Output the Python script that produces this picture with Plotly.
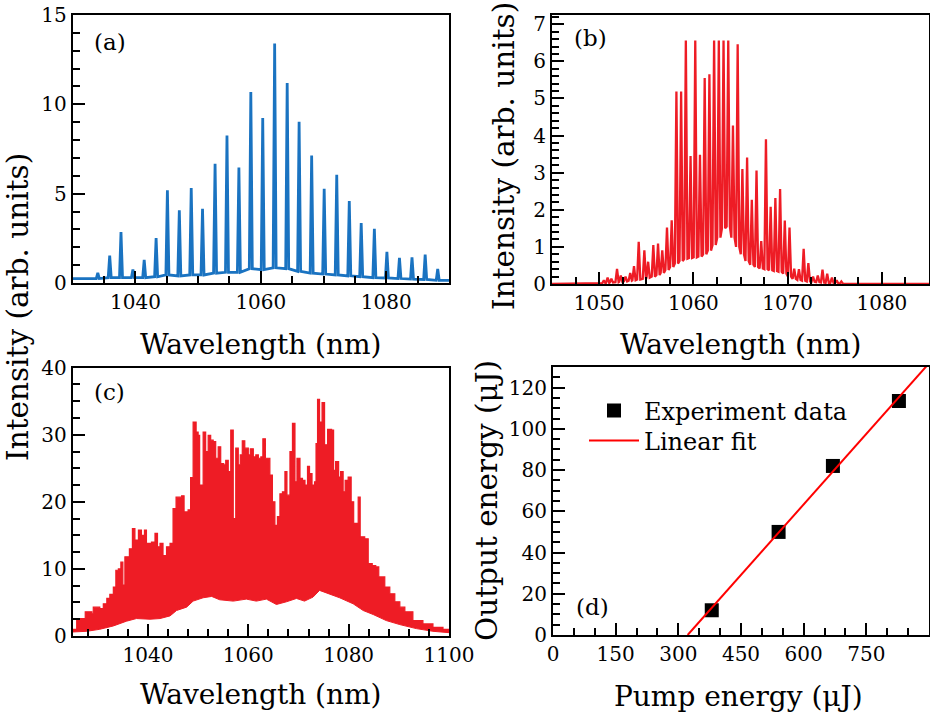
import numpy as np
import plotly.graph_objects as go

# ---------------- data ----------------
# (a) spectrum: peak wavelengths, peak intensities, floor level at each peak base
a_peak_wl = [1034.0, 1035.9, 1037.7, 1039.6, 1041.4, 1043.3, 1045.1, 1047.0, 1048.9, 1050.7,
             1052.7, 1054.6, 1056.5, 1058.4, 1060.3, 1062.2, 1064.2, 1066.1, 1068.1, 1070.1,
             1072.1, 1074.1, 1076.0, 1078.1, 1080.1, 1082.1, 1084.1, 1086.2, 1088.2]
a_peak_int = [0.56, 1.54, 2.85, 0.75, 1.29, 2.51, 5.19, 4.07, 5.31, 4.16,
              6.68, 8.25, 6.47, 10.69, 9.23, 13.41, 11.19, 9.02, 7.13, 5.27,
              6.06, 4.59, 3.36, 3.04, 1.74, 1.41, 1.44, 1.59, 0.79]
a_peak_floor = [0.25, 0.3, 0.3, 0.3, 0.3, 0.35, 0.45, 0.4, 0.45, 0.45,
                0.55, 0.6, 0.6, 0.8, 0.75, 0.85, 0.8, 0.65, 0.55, 0.5,
                0.45, 0.4, 0.35, 0.3, 0.28, 0.25, 0.22, 0.2, 0.15]
a_edge_wl = [1030.0, 1090.0]
a_edge_int = [0.25, 0.15]

# (b) spectrum
b_peak_wl = [1050.5, 1050.9, 1051.3, 1051.9, 1052.3, 1052.8, 1053.3, 1053.7, 1054.2, 1054.8,
             1055.2, 1055.75, 1056.25, 1056.7, 1057.2, 1057.7, 1058.2, 1058.7, 1059.2, 1059.7,
             1060.2, 1060.7, 1061.2, 1061.7, 1062.2, 1062.7, 1063.2, 1063.7, 1064.2, 1064.7,
             1065.2, 1065.7, 1066.2, 1066.7, 1067.2, 1067.7, 1068.2, 1068.7, 1069.2, 1069.7,
             1070.2, 1070.7, 1071.2, 1071.7, 1072.2, 1072.7, 1073.2, 1073.7, 1074.2, 1074.7,
             1075.2, 1075.7]
b_peak_int = [0.1, 0.17, 0.14, 0.41, 0.23, 0.2, 0.3, 0.48, 1.14, 0.91,
              0.6, 1.05, 1.09, 0.91, 1.52, 1.72, 5.19, 5.19, 6.56, 3.45,
              6.56, 3.48, 5.55, 5.65, 6.56, 6.56, 6.56, 6.56, 4.27, 6.46,
              3.1, 3.41, 2.27, 3.06, 1.16, 3.9, 2.08, 2.32, 2.56, 1.71,
              1.52, 0.41, 0.4, 0.95, 0.56, 0.2, 0.23, 0.39, 0.28, 0.17,
              0.1, 0.07]
b_peak_floor = [0.02, 0.03, 0.04, 0.05, 0.06, 0.07, 0.09, 0.1, 0.12, 0.14,
                0.17, 0.2, 0.24, 0.3, 0.38, 0.46, 0.55, 0.62, 0.68, 0.7,
                0.72, 0.74, 0.8, 0.9, 1.05, 1.25, 1.5, 1.55, 1.25, 1.0,
                0.8, 0.62, 0.52, 0.46, 0.42, 0.4, 0.37, 0.35, 0.33, 0.28,
                0.2, 0.14, 0.11, 0.09, 0.07, 0.06, 0.05, 0.04, 0.03, 0.03,
                0.02, 0.01]
b_edge_wl = [1045.0, 1050.0, 1076.3, 1085.0]
b_edge_int = [0.0, 0.0, 0.0, 0.0]

# (c) spectrum: upper (spiky) contour and lower envelope
c_upper_wl = [1025.0, 1025.8, 1027.5, 1028.8, 1029.1, 1030.4, 1031.1, 1031.8, 1032.4, 1033.1,
              1033.6, 1034.1, 1034.6, 1035.0, 1035.4, 1036.3, 1036.9, 1037.4, 1038.1, 1038.7,
              1039.3, 1039.7, 1040.7, 1041.4, 1041.9, 1042.4, 1043.0, 1043.7, 1044.4, 1045.0,
              1045.6, 1046.7, 1047.2, 1048.0, 1048.5, 1049.0, 1049.6, 1050.0, 1050.3, 1051.0,
              1051.5, 1052.0, 1052.5, 1053.0, 1053.5, 1054.0, 1054.5, 1055.1, 1055.5, 1056.0,
              1056.5, 1057.0, 1057.5, 1058.0, 1058.4, 1058.8, 1059.3, 1060.0, 1060.4, 1061.0,
              1061.5, 1062.0, 1062.5, 1062.9, 1063.4, 1063.8, 1064.3, 1064.8, 1065.3, 1065.8,
              1066.3, 1066.8, 1067.3, 1067.7, 1068.3, 1068.8, 1069.3, 1069.7, 1070.3, 1070.8,
              1071.3, 1071.8, 1072.2, 1072.7, 1073.2, 1073.5, 1073.8, 1074.2, 1074.7, 1075.2,
              1075.8, 1076.6, 1077.0, 1077.4, 1078.0, 1078.4, 1078.9, 1079.3, 1079.9, 1080.5,
              1081.0, 1081.9, 1082.3, 1083.2, 1083.9, 1084.7, 1085.4, 1086.0, 1087.2, 1088.2,
              1089.2, 1090.2, 1091.2, 1092.8, 1094.8, 1096.8, 1098.8, 1100.0]
c_upper_int = [1.0, 2.6, 3.6, 3.3, 4.3, 4.1, 4.8, 5.6, 6.2, 7.3,
               9.8, 10.0, 11.0, 7.6, 11.8, 13.0, 16.0, 14.3, 15.8, 15.0,
               15.8, 13.8, 14.0, 15.3, 13.3, 13.8, 12.0, 13.3, 13.8, 19.0,
               20.7, 20.9, 18.5, 18.8, 23.6, 31.9, 30.4, 29.9, 22.5, 30.4,
               27.5, 29.9, 29.2, 29.0, 26.5, 28.2, 25.7, 25.5, 26.2, 24.5,
               30.7, 17.5, 28.0, 25.5, 27.0, 29.1, 28.0, 27.0, 27.9, 26.7,
               27.0, 26.5, 26.7, 29.4, 26.5, 26.5, 24.0, 20.0, 16.5, 17.8,
               21.2, 21.5, 24.5, 21.0, 27.5, 31.7, 23.0, 26.5, 23.5, 23.2,
               22.5, 25.3, 24.2, 22.5, 23.0, 28.7, 35.3, 31.9, 34.8, 28.5,
               30.8, 30.7, 24.7, 26.0, 23.7, 24.5, 21.5, 23.2, 23.7, 20.0,
               16.8, 20.7, 14.8, 14.5, 10.8, 10.5, 10.3, 8.8, 7.3, 6.3,
               5.1, 4.3, 3.6, 2.3, 1.8, 1.3, 1.0, 0.7]
c_lower_wl = [1025.0, 1027.8, 1030.4, 1033.1, 1035.7, 1037.7, 1040.4, 1042.4, 1044.4, 1045.7,
              1047.7, 1049.0, 1051.0, 1052.7, 1054.3, 1057.0, 1059.6, 1061.6, 1063.6, 1065.6,
              1067.6, 1069.6, 1071.2, 1072.9, 1074.2, 1076.2, 1078.2, 1080.9, 1082.9, 1084.9,
              1087.5, 1090.2, 1093.5, 1096.8, 1100.0]
c_lower_int = [0.6, 0.7, 1.0, 1.5, 2.2, 2.6, 2.5, 2.6, 3.0, 3.8,
               4.3, 5.2, 5.7, 5.9, 5.4, 5.2, 5.5, 5.2, 5.5, 4.7,
               5.1, 5.6, 5.2, 5.8, 6.8, 6.3, 5.7, 4.8, 3.8, 3.2,
               2.3, 1.7, 1.1, 0.7, 0.5]

# (d) output energy vs pump energy
pump = [380, 540, 670, 828]
output = [12.0, 50.0, 82.0, 113.5]

# ---------------- style ----------------
FONT = "DejaVu Serif"
BLUE = "#1a73c1"
RED = "#ee1c25"
W, H = 930, 713


def px_x(p):
    return p / W


def px_y(p):
    return 1 - p / H


def spike_line(peak_wl, peak_int, peak_floor, edge_wl, edge_int, half):
    xs, ys = [], []
    for w, h, f in zip(peak_wl, peak_int, peak_floor):
        xs += [w - half, w, w + half]
        ys += [f, h, f]
    xs += list(edge_wl)
    ys += list(edge_int)
    order = np.argsort(xs, kind="stable")
    return np.array(xs)[order], np.array(ys)[order]


fig = go.Figure()

ax_x, ay = spike_line(a_peak_wl, a_peak_int, a_peak_floor, a_edge_wl, a_edge_int, 0.24)
fig.add_trace(go.Scatter(x=ax_x, y=ay, mode="lines", line=dict(color=BLUE, width=2.8),
                         xaxis="x", yaxis="y", showlegend=False))

bx, by = spike_line(b_peak_wl, b_peak_int, b_peak_floor, b_edge_wl, b_edge_int, 0.17)
fig.add_trace(go.Scatter(x=bx, y=by, mode="lines", line=dict(color=RED, width=2.3),
                         xaxis="x2", yaxis="y2", showlegend=False))

# (c): lower envelope, then spiky upper contour filled down to it
fig.add_trace(go.Scatter(x=c_lower_wl, y=c_lower_int, mode="lines",
                         line=dict(color=RED, width=1), xaxis="x3", yaxis="y3",
                         showlegend=False))
fig.add_trace(go.Scatter(x=c_upper_wl, y=c_upper_int, mode="lines", fill="tonexty",
                         fillcolor=RED, line=dict(color=RED, width=1.2, shape="hv"),
                         xaxis="x3", yaxis="y3", showlegend=False))

slope, icpt = np.polyfit(pump, output, 1)
fit_x = np.array([-icpt / slope, 900.0])
fit_y = slope * fit_x + icpt
fig.add_trace(go.Scatter(x=pump, y=output, mode="markers", name="Experiment data",
                         marker=dict(symbol="square", size=14, color="black"),
                         xaxis="x4", yaxis="y4", legend="legend"))
fig.add_trace(go.Scatter(x=fit_x, y=fit_y, mode="lines", name="Linear fit",
                         line=dict(color="#ff0000", width=2), xaxis="x4", yaxis="y4",
                         legend="legend2"))


def axis(domain, rng, tickvals=None, dtick=None, tick0=None, minor_dtick=None, minor_tick0=None,
         anchor=None):
    d = dict(domain=domain, range=rng, showline=True, mirror=True, linecolor="black",
             linewidth=2, ticks="inside", ticklen=12, tickwidth=2, tickcolor="black",
             showgrid=False, zeroline=False, anchor=anchor, automargin=False,
             tickfont=dict(family=FONT, size=20, color="black"),
             minor=dict(ticks="inside", ticklen=7, tickwidth=1.5, tickcolor="black",
                        dtick=minor_dtick, tick0=minor_tick0, showgrid=False))
    if tickvals is not None:
        d["tickmode"] = "array"
        d["tickvals"] = tickvals
    else:
        d["dtick"] = dtick
        d["tick0"] = tick0
    return d


xa = [px_x(72.7), px_x(449)]
xb = [px_x(552), px_x(929)]
ya_top = [px_y(283), px_y(15)]
yc_bot = [px_y(636), px_y(367.7)]

leg_common = dict(xanchor="left", yanchor="middle", itemwidth=50,
                  font=dict(family=FONT, size=24, color="black"), bgcolor="rgba(0,0,0,0)")

fig.update_layout(
    width=W, height=H, autosize=False,
    margin=dict(l=0, r=0, t=0, b=0, pad=0, autoexpand=False),
    paper_bgcolor="white", plot_bgcolor="white",
    xaxis=axis(xa, [1030, 1090], tickvals=[1040, 1060, 1080], minor_dtick=5, minor_tick0=1030, anchor="y"),
    yaxis=axis(ya_top, [0, 15], dtick=5, tick0=0, minor_dtick=1, minor_tick0=0, anchor="x"),
    xaxis2=axis(xb, [1045, 1085], tickvals=[1050, 1060, 1070, 1080], minor_dtick=2.5, minor_tick0=1045, anchor="y2"),
    yaxis2=axis([px_y(284), px_y(15)], [0, 7.25], dtick=1, tick0=0, minor_dtick=0.2, minor_tick0=0, anchor="x2"),
    xaxis3=axis(xa, [1025, 1100], tickvals=[1040, 1060, 1080, 1100], minor_dtick=4, minor_tick0=1028, anchor="y3"),
    yaxis3=axis(yc_bot, [0, 40], dtick=10, tick0=0, minor_dtick=2.5, minor_tick0=0, anchor="x3"),
    xaxis4=axis([px_x(553), px_x(929)], [0, 900], tickvals=[0, 150, 300, 450, 600, 750], minor_dtick=50, minor_tick0=0, anchor="y4"),
    yaxis4=axis([px_y(635), px_y(367)], [0, 130], dtick=20, tick0=0, minor_dtick=5, minor_tick0=0, anchor="x4"),
    legend=dict(x=px_x(584), y=px_y(411), **leg_common),
    legend2=dict(x=px_x(584), y=px_y(441), **leg_common),
    showlegend=True,
)

ann = []


def text(x, y, s, size, angle=0):
    ann.append(dict(x=px_x(x), y=px_y(y), xref="paper", yref="paper", text=s, showarrow=False,
                    textangle=angle, xanchor="center", yanchor="middle",
                    font=dict(family=FONT, size=size, color="black")))


text(261, 344, "Wavelength (nm)", 28)
text(741, 344, "Wavelength (nm)", 28)
text(261, 694, "Wavelength (nm)", 28)
text(738, 696, "Pump energy (μJ)", 28)
text(18, 307, "Intensity (arb. units)", 29.5, -90)
text(504, 156, "Intensity (arb. units)", 29.5, -90)
text(487, 501, "Output energy (μJ)", 29.5, -90)
text(110, 42, "(a)", 23)
text(590, 38, "(b)", 23)
text(109, 392, "(c)", 23)
text(592, 607, "(d)", 23)
fig.update_layout(annotations=ann)

fig.write_html("out.html", config={"displayModeBar": False, "responsive": False},
               post_script="document.body.style.margin='0';document.body.style.overflow='hidden';")
